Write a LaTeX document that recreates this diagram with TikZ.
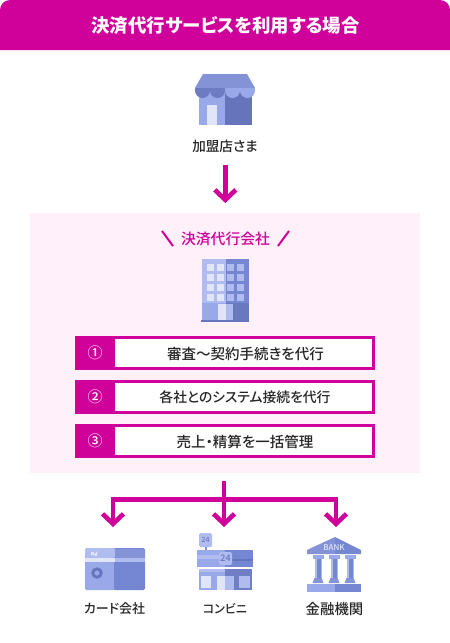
\documentclass[tikz,border=0pt]{standalone}
\usepackage{fontspec}
\setmainfont[RawFeature=+palt]{Noto Sans CJK JP Medium}
\usepackage{xcolor}
\usetikzlibrary{arrows.meta,positioning,calc}
\definecolor{brandpink}{HTML}{D0009B}
\definecolor{panelpink}{HTML}{FFF0FA}
\definecolor{iconlight}{HTML}{98A8E8}
\definecolor{iconpale}{HTML}{B0BCEF}
\definecolor{iconmid}{HTML}{8393D6}
\definecolor{icondark}{HTML}{6674BB}
\definecolor{iconblue}{HTML}{7587D2}
\definecolor{iconwhite}{HTML}{E0E6F7}
\begin{document}
\begin{tikzpicture}[
    x=1pt, y=-1pt,
    flow/.style={draw=brandpink, line width=4.6pt},
    flowarrow/.style={flow, -{Straight Barb[length=10pt,width=21pt,line width=4.6pt]}},
    caption/.style={text=black!85, inner sep=0pt, font=\fontsize{13.6}{16}\selectfont},
    rowbox/.style={draw=brandpink, line width=3pt, fill=white, minimum width=297pt,
                   minimum height=31pt, inner sep=0pt},
    rownum/.style={fill=brandpink, text=white, minimum width=40pt, minimum height=34pt,
                   inner sep=0pt, font=\fontsize{15}{17}\selectfont},
    rowtext/.style={text=black!85, inner sep=0pt, font=\fontsize{14.5}{16}\selectfont}
]
    \useasboundingbox (0,0) rectangle (450,643);

    % header
    \fill[brandpink, rounded corners=10pt] (0,30) -- (0,0) -- (450,0) -- (450,30)
        [sharp corners] -- (450,50) -- (0,50) -- cycle;
    \node[text=white, inner sep=0pt, font=\fontsize{18.4}{21}\selectfont\bfseries] (title)
        at (225.5,25) {決済代行サービスを利用する場合};

    % panel
    \node[fill=panelpink, minimum width=390pt, minimum height=260pt, inner sep=0pt] (panel)
        at (225,343) {};
    \node[text=brandpink, inner sep=0pt, font=\fontsize{14.8}{17}\selectfont] (agent)
        at (225.5,239) {決済代行会社};
    \draw[brandpink, line width=2pt] (162,231) -- (173,246);
    \draw[brandpink, line width=2pt] (289,231) -- (278,246);

    % store icon
    \fill[icondark] (225,91) rectangle (252,125);
    \fill[iconlight] (199,91) rectangle (225,125);
    \fill[iconwhite] (207,105) rectangle (217,125);
    \foreach \cx in {202.5,217.5}
        \fill[icondark!85!iconlight] (\cx,90.5) circle[radius=7.5pt];
    \foreach \cx in {232.5,247.5}
        \fill[iconlight] (\cx,90.5) circle[radius=7.5pt];
    \fill[iconmid] (203,74) -- (247,74) -- (255,88) -- (195,88) -- cycle;
    \fill[icondark!85!iconlight] (195,88) rectangle (225,91);
    \fill[iconlight] (225,88) rectangle (255,91);
    \node[caption] (merchant) at (225,146) {加盟店さま};

    % building icon
    \fill[iconpale] (202,259) rectangle (225.5,303);
    \fill[iconblue] (225.5,259) rectangle (249,303);
    \fill[iconlight] (202,303) rectangle (225.5,320);
    \fill[iconblue!90!black] (225.5,303) rectangle (249,320);
    \foreach \wy in {264,274,284,294} {
        \foreach \wx in {207,217}
            \fill[iconwhite] (\wx,\wy) rectangle +(7,7);
        \foreach \wx in {227,237}
            \fill[iconpale] (\wx,\wy) rectangle +(7,7);
    }
    \fill[iconwhite] (218,304) rectangle (225.5,320);
    \fill[iconpale] (225.5,304) rectangle (233,320);
    \fill[icondark] (201,320) rectangle (249,322);

    % rows
    \node[rowbox] (rowa) at (225,353) {};
    \node[rownum, anchor=west] (numa) at (75,353) {①};
    \node[rowtext] (texta) at (245.5,353.5) {審査〜契約手続きを代行};
    \node[rowbox] (rowb) at (225,397) {};
    \node[rownum, anchor=west] (numb) at (75,397) {②};
    \node[rowtext, font=\fontsize{13.8}{16}\selectfont] (textb) at (245,397.5) {各社とのシステム接続を代行};
    \node[rowbox] (rowc) at (225,441) {};
    \node[rownum, anchor=west] (numc) at (75,441) {③};
    \node[rowtext] (textc) at (245,441.5) {売上・精算を一括管理};

    % card icon
    \fill[iconlight, rounded corners=1.5pt] (85,548) rectangle (116,590);
    \fill[iconblue, rounded corners=1.5pt] (114,548) rectangle (145,590);
    \fill[iconpale, rounded corners=1.5pt] (85,548) rectangle (115,558);
    \fill[iconmid] (115,548.5) rectangle (145,558);
    \fill[iconwhite] (85,558) rectangle (115,562);
    \fill[iconpale] (115,558) rectangle (145,562);
    \draw[icondark, line width=2.8pt] (97,573) circle[radius=4.2pt];
    \fill[iconwhite] (91,552) rectangle (94,555) (94,555.5) -- (97,551) -- (97,556) -- cycle;
    \node[caption, font=\fontsize{13}{16}\selectfont] (card) at (114.5,609) {カード会社};

    % convenience store icon
    \fill[iconpale, rounded corners=1.5pt] (199,533) rectangle (212,547);
    \fill[iconmid] (204.5,547) rectangle (206.5,550);
    \node[text=icondark, inner sep=0pt, font=\fontsize{7}{8}\selectfont] (signa) at (205.5,540) {24};
    \fill[iconlight] (197,550) rectangle (225,567);
    \fill[iconblue] (225,550) rectangle (253,567);
    \fill[iconpale] (197,555) rectangle (220,559);
    \fill[icondark] (232,559) rectangle (253,561);
    \fill[iconpale, rounded corners=1.5pt] (219,552) rectangle (232,565);
    \node[text=icondark, inner sep=0pt, font=\fontsize{9}{10}\selectfont] (signb) at (225.5,558.5) {24};
    \fill[iconlight] (199,569) rectangle (225,590);
    \fill[icondark!80!iconlight] (225,569) rectangle (252,590);
    \fill[iconpale] (199,569) rectangle (225,572);
    \fill[iconwhite] (201,576) rectangle (211,588);
    \fill[iconwhite] (217,576) rectangle (225,590);
    \fill[iconpale] (225,576) rectangle (234,590);
    \fill[iconpale] (239,576) rectangle (250,588);
    \node[caption, font=\fontsize{12}{16}\selectfont] (shop) at (225,609) {コンビニ};

    % bank icon
    \fill[iconmid] (335,537) -- (307,550) -- (307,554) -- (335,554) -- cycle;
    \fill[iconblue] (335,537) -- (361,550) -- (361,554) -- (335,554) -- cycle;
    \node[text=iconwhite, inner sep=0pt, font=\fontsize{8}{9}\selectfont] (bankname) at (334,547.5) {BANK};
    \foreach \px in {318,334,350} {
        \fill[iconlight] (\px-5.5,555) rectangle (\px+5.5,559);
        \fill[iconpale] (\px-3.5,559) rectangle (\px+3.5,578);
        \fill[iconblue] (\px-1,559) rectangle (\px+2.5,578);
        \fill[iconmid] (\px-3.5,578) -- (\px+3.5,578) -- (\px+5.5,583) -- (\px-5.5,583) -- cycle;
    }
    \fill[iconlight] (307,584) rectangle (335,592);
    \fill[iconblue] (335,584) rectangle (361,592);
    \node[caption, font=\fontsize{14.4}{16}\selectfont] (bank) at (334.5,609) {金融機関};

    % connectors
    \coordinate (mergein) at (225.3,165);
    \coordinate (mergeout) at (225.3,203);
    \coordinate (hub) at (224,499.5);
    \coordinate (cardtip) at (113,527);
    \coordinate (shoptip) at (224,527);
    \coordinate (banktip) at (336,527);
    \draw[flowarrow] (mergein) -- (mergeout);
    \draw[flow, shorten <=8pt] (panel.south -| hub) -- (hub);
    \draw[flowarrow] (hub) -- (shoptip);
    \draw[flowarrow] (hub) -| (cardtip);
    \draw[flowarrow] (hub) -| (banktip);
\end{tikzpicture}
\end{document}
